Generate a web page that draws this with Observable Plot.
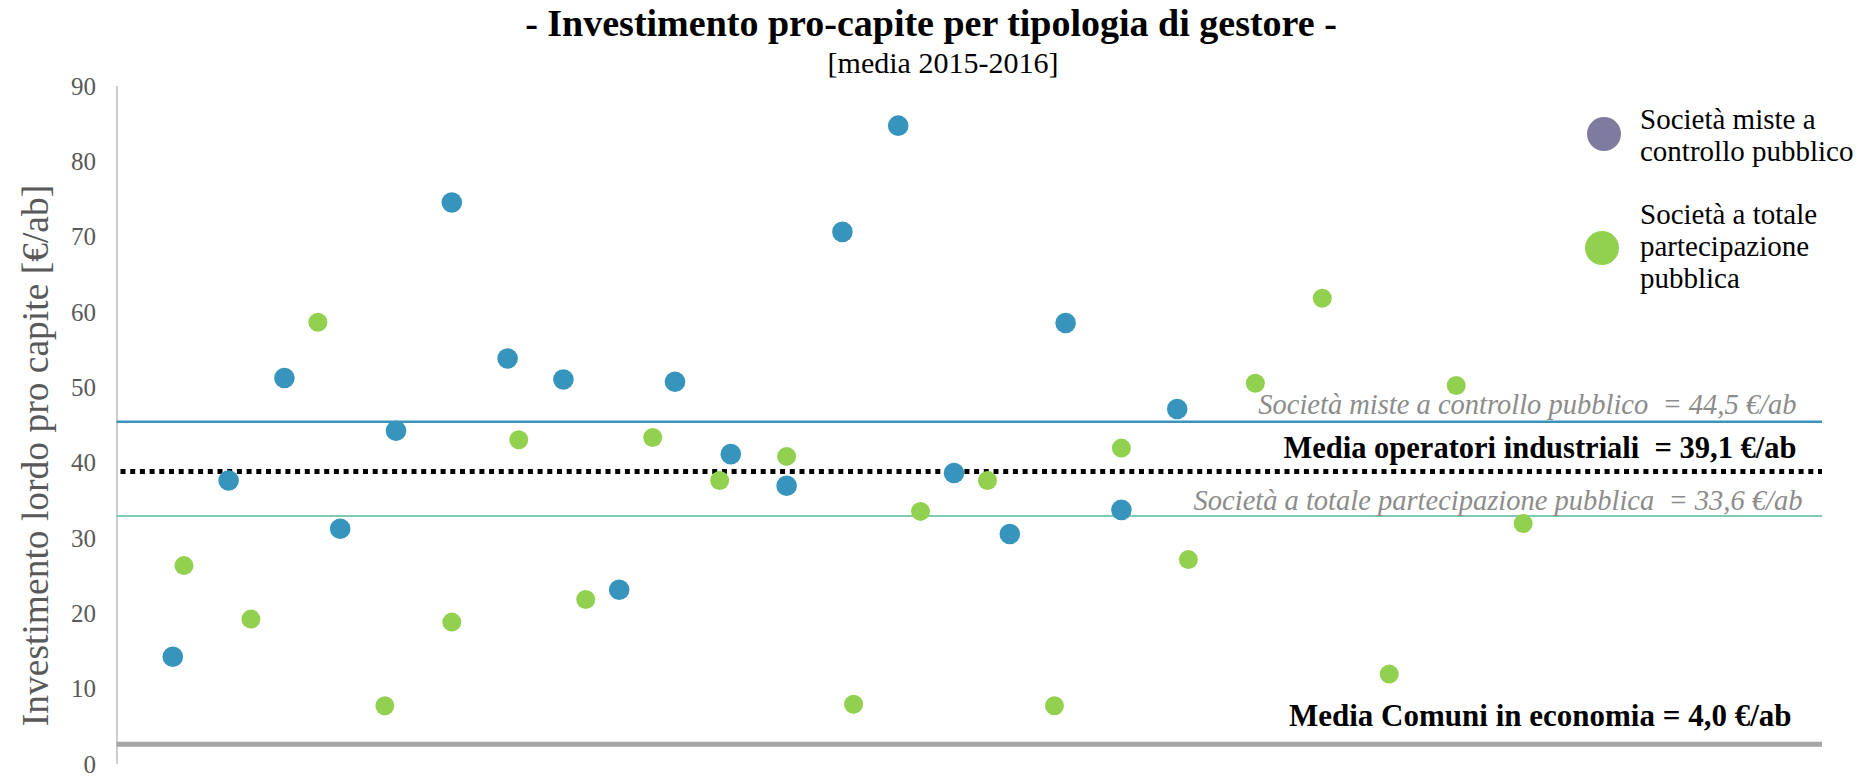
<!DOCTYPE html>
<html>
<head>
<meta charset="utf-8">
<script src="https://cdn.jsdelivr.net/npm/d3@7"></script>
<script src="https://cdn.jsdelivr.net/npm/@observablehq/plot@0.6"></script>
<style>
  html, body { margin: 0; padding: 0; background: #fff; }
  #wrap { position: relative; width: 1862px; height: 776px; font-family: "Liberation Serif", serif; overflow: hidden; }
  #chart { position: absolute; left: 0; top: 0; }
  #title { position: absolute; left: 0; top: 4px; width: 1862px; text-align: center; font-weight: bold; font-size: 38px; line-height: 38px; color: #000; }
  #subtitle { position: absolute; left: 12px; top: 48px; width: 1862px; text-align: center; font-size: 30px; line-height: 30px; color: #000; }
  .leg-dot { position: absolute; width: 34px; height: 34px; border-radius: 50%; }
  .leg-text { position: absolute; left: 1640px; font-size: 29px; line-height: 31.7px; color: #000; white-space: nowrap; }
</style>
</head>
<body>
<div id="wrap">
  <div id="chart"></div>
  <div id="title"></div>
  <div id="subtitle"></div>
  <div id="legend"></div>
</div>
<script>
// ---- Data ----
const titleText = "- Investimento pro-capite per tipologia di gestore -";
const subtitleText = "[media 2015-2016]";
const yLabel = "Investimento lordo pro capite [€/ab]";
const yTicks = [0, 10, 20, 30, 40, 50, 60, 70, 80, 90];

// Series 1: Società miste a controllo pubblico (primary x axis, index 1..19, axis max 30)
const seriesNames = ["Società miste a\ncontrollo pubblico", "Società a totale\npartecipazione\npubblica"];
const seriesColors = ["#3794bd", "#92d050"];
const legendColors = ["#7f7b9f", "#92d050"];
const mistaValues = [14.3, 37.7, 51.3, 31.3, 44.3, 74.6, 53.9, 51.1, 23.2, 50.8,
                     41.2, 37.0, 70.7, 84.8, 38.7, 30.6, 58.6, 33.8, 47.2];
const mistaAxisMax = 30;
// Series 2: Società a totale partecipazione pubblica (secondary x axis, index 1..21, axis max 25)
const totaleValues = [26.4, 19.3, 58.7, 7.8, 18.9, 43.1, 21.9, 43.4, 37.7, 40.9,
                      8.0, 33.6, 37.7, 7.8, 42.0, 27.2, 50.6, 61.9, 12.0, 50.3, 32.0];
const totaleAxisMax = 25;

// Reference lines (positions as drawn) and their labels
const refLabels = [
  "Società miste a controllo pubblico  = 44,5 €/ab",
  "Media operatori industriali  = 39,1 €/ab",
  "Società a totale partecipazione pubblica  = 33,6 €/ab",
  "Media Comuni in economia = 4,0 €/ab"
];
const refValues = [45.5, 38.9, 33.0, 2.7];
const xEnd = 1.0188; // lines run slightly past the last axis unit

// ---- Build tables ----
const mista = mistaValues.map((v, i) => ({x: (i + 1) / mistaAxisMax, y: v}));
const totale = totaleValues.map((v, i) => ({x: (i + 1) / totaleAxisMax, y: v}));
const refs = refLabels.map((label, k) => ({label, value: refValues[k]}));

const W = 1862, H = 776;
const chart = Plot.plot({
  width: W,
  height: H,
  marginLeft: 116.5,
  marginRight: 40,
  marginTop: 86,
  marginBottom: 12,
  style: {fontFamily: "Liberation Serif, serif", fontSize: "25px", color: "#595959", background: "transparent", whiteSpace: "pre"},
  x: {domain: [0, xEnd], axis: null},
  y: {domain: [0, 90], ticks: yTicks, tickSize: 0, tickPadding: 21, label: null, tickFormat: d => String(d)},
  marks: [
    Plot.ruleX([0], {stroke: "#bfbfbf", strokeWidth: 1.5}),
    Plot.ruleY([refValues[0]], {stroke: "#3a94bc", strokeWidth: 2.5}),
    Plot.ruleY([refValues[1]], {stroke: "#000000", strokeWidth: 5, strokeDasharray: "5,4.7", strokeDashoffset: -4}),
    Plot.ruleY([refValues[2]], {stroke: "#7fcab0", strokeWidth: 2}),
    Plot.ruleY([refValues[3]], {stroke: "#a6a6a6", strokeWidth: 5}),
    Plot.dot(mista, {x: "x", y: "y", r: 10.3, fill: seriesColors[0], stroke: "none"}),
    Plot.dot(totale, {x: "x", y: "y", r: 9.5, fill: seriesColors[1], stroke: "none"}),
    Plot.text([refs[0]], {y: "value", text: "label", frameAnchor: "right", textAnchor: "end", lineAnchor: "bottom",
      dx: -26, dy: -7.6, fontStyle: "italic", fontSize: 28.5, fill: "#8c8c8c"}),
    Plot.text([refs[1]], {y: "value", text: "label", frameAnchor: "right", textAnchor: "end", lineAnchor: "bottom",
      dx: -26, dy: -13.4, fontWeight: "bold", fontSize: 30.5, fill: "#000"}),
    Plot.text([refs[2]], {y: "value", text: "label", frameAnchor: "right", textAnchor: "end", lineAnchor: "bottom",
      dx: -20, dy: -6.4, fontStyle: "italic", fontSize: 28.5, fill: "#8c8c8c"}),
    Plot.text([refs[3]], {y: "value", text: "label", frameAnchor: "right", textAnchor: "end", lineAnchor: "bottom",
      dx: -31, dy: -18, fontWeight: "bold", fontSize: 31, fill: "#000"}),
    Plot.text([yLabel], {frameAnchor: "left", textAnchor: "middle", rotate: -90, dx: -81, dy: 30, fontSize: 37.5, fill: "#595959"})
  ]
});
document.getElementById("chart").appendChild(chart);

document.getElementById("title").textContent = titleText;
document.getElementById("subtitle").textContent = subtitleText;

// Legend (HTML)
const legend = document.getElementById("legend");
const legendLayout = [
  {dotLeft: 1587, dotTop: 117, textTop: 104.4},
  {dotLeft: 1584.5, dotTop: 230.7, textTop: 199.4}
];
seriesNames.forEach((name, k) => {
  const dot = document.createElement("div");
  dot.className = "leg-dot";
  dot.style.left = legendLayout[k].dotLeft + "px";
  dot.style.top = legendLayout[k].dotTop + "px";
  dot.style.background = legendColors[k];
  legend.appendChild(dot);
  const t = document.createElement("div");
  t.className = "leg-text";
  t.style.top = legendLayout[k].textTop + "px";
  t.innerHTML = name.split("\n").join("<br>");
  legend.appendChild(t);
});
</script>
</body>
</html>
